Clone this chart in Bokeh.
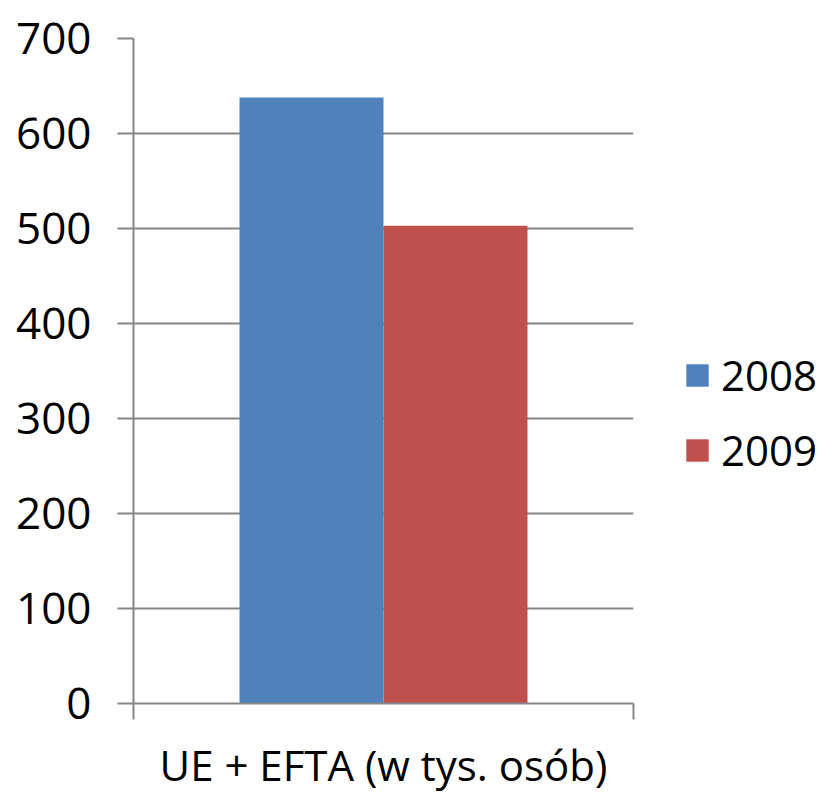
from bokeh.plotting import figure
from bokeh.models import (Range1d, FactorRange, LinearAxis, FixedTicker, Legend,
                          LegendItem, ColumnDataSource)
from bokeh.transform import dodge
from bokeh.embed import file_html
from bokeh.resources import INLINE

categories = ["UE + EFTA (w tys. osób)"]
series = ["2008", "2009"]
values_2008 = [638]
values_2009 = [503]
y_ticks = [0, 100, 200, 300, 400, 500, 600, 700]
colors = ["#4F81BD", "#C0504D"]

FONT = "Open Sans"
GRID = "#868686"

src = ColumnDataSource(dict(cat=categories, v2008=values_2008, v2009=values_2009))

p = figure(frame_width=500, frame_height=665,
           x_range=FactorRange(factors=categories, range_padding=0),
           y_range=Range1d(0, 700),
           x_axis_location=None, toolbar_location=None, output_backend="svg",
           min_border_left=133, min_border_right=182, min_border_top=38,
           min_border_bottom=97)
p.outline_line_color = None
p.xgrid.visible = False
p.ygrid.grid_line_color = GRID
p.ygrid.grid_line_width = 2
p.ygrid.ticker = FixedTicker(ticks=y_ticks)

ya = p.yaxis[0]
ya.ticker = FixedTicker(ticks=y_ticks)
ya.axis_line_color = GRID
ya.axis_line_width = 2
ya.major_tick_line_color = GRID
ya.major_tick_line_width = 2
ya.major_tick_out = 16
ya.major_tick_in = 0
ya.minor_tick_line_color = None
ya.major_label_text_font = FONT
ya.major_label_text_font_size = "44px"
ya.major_label_text_color = "black"
ya.major_label_standoff = 26

# category boundaries (synthetic coordinates 0 and 1 of the single factor)
xa = LinearAxis(ticker=FixedTicker(ticks=[0, len(categories)]),
                axis_label=categories[0])
xa.axis_line_color = GRID
xa.axis_line_width = 2
xa.major_tick_line_color = GRID
xa.major_tick_line_width = 2
xa.major_tick_out = 16
xa.major_tick_in = 0
xa.minor_tick_line_color = None
xa.major_label_overrides = {0: " ", 1: " "}
xa.major_label_text_font_size = "1px"
xa.major_label_standoff = 0
xa.axis_label_text_font = FONT
xa.axis_label_text_font_size = "42px"
xa.axis_label_text_font_style = "normal"
xa.axis_label_text_color = "black"
xa.axis_label_standoff = 12
p.add_layout(xa, "below")

r1 = p.vbar(x=dodge("cat", -0.144, range=p.x_range), top="v2008", width=0.288,
            source=src, fill_color=colors[0], line_color=None)
r2 = p.vbar(x=dodge("cat", 0.144, range=p.x_range), top="v2009", width=0.288,
            source=src, fill_color=colors[1], line_color=None)

legend = Legend(items=[LegendItem(label=series[0], renderers=[r1]),
                       LegendItem(label=series[1], renderers=[r2])],
                location=(50, 225))
legend.glyph_width = 28
legend.glyph_height = 28
legend.label_text_font = FONT
legend.label_text_font_size = "42px"
legend.label_text_color = "black"
legend.label_standoff = 10
legend.spacing = 18
legend.padding = 0
legend.margin = 0
legend.border_line_color = None
legend.background_fill_alpha = 0
p.add_layout(legend, "right")

open("out.html", "w").write(file_html(p, INLINE))
